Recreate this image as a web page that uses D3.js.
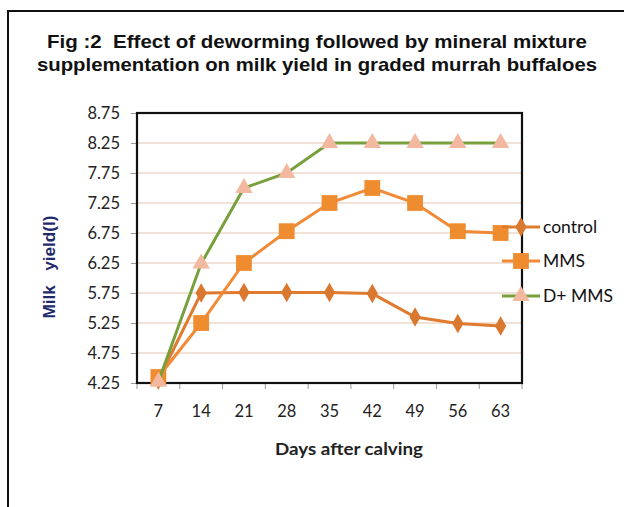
<!DOCTYPE html>
<html><head><meta charset="utf-8">
<script src="https://cdn.jsdelivr.net/npm/d3@7"></script>
<style>body{margin:0;background:#fff}svg{display:block}</style>
</head><body><svg id="c" width="624" height="507"></svg>
<script>
const days = ["7","14","21","28","35","42","49","56","63"];
const control = [4.30, 5.75, 5.76, 5.76, 5.76, 5.74, 5.35, 5.24, 5.20];
const mms = [4.35, 5.25, 6.25, 6.78, 7.25, 7.50, 7.25, 6.78, 6.75];
const dmms = [4.27, 6.24, 7.50, 7.75, 8.25, 8.25, 8.25, 8.25, 8.25];
const yTicks = [4.25, 4.75, 5.25, 5.75, 6.25, 6.75, 7.25, 7.75, 8.25, 8.75];
const seriesNames = ["control", "MMS", "D+ MMS"];
const titleLines = ["Fig :2  Effect of deworming followed by mineral mixture", "supplementation on milk yield in graded murrah buffaloes"];

const svg = d3.select("#c");
// outer frame
svg.append("rect").attr("x", 8).attr("y", 11).attr("width", 640).attr("height", 520)
  .attr("fill", "none").attr("stroke", "#111").attr("stroke-width", 2);

const L = 137, T = 113, R = 522, B = 383;
const x = d3.scaleBand().domain(days).range([L, R]);
const y = d3.scaleLinear().domain([4.25, 8.75]).range([B, T]);

// title
const tl = [[47, 48, 540], [37, 71, 560]];
svg.selectAll(".title").data(titleLines).join("text")
  .attr("x", (d, i) => tl[i][0]).attr("y", (d, i) => tl[i][1])
  .attr("textLength", (d, i) => tl[i][2]).attr("lengthAdjust", "spacingAndGlyphs")
  .attr("font-family", "Liberation Sans, Arial, sans-serif").attr("font-weight", "bold")
  .attr("font-size", 18.5).attr("fill", "#111").attr("xml:space", "preserve").text(d => d);

// gridlines
svg.append("g").selectAll("line").data(yTicks.slice(1, -1)).join("line")
  .attr("x1", L).attr("x2", R).attr("y1", d => y(d)).attr("y2", d => y(d))
  .attr("stroke", "#E3C3AE").attr("stroke-width", 1.2);

// axes
const yAxis = svg.append("g").attr("transform", `translate(${L},0)`)
  .call(d3.axisLeft(y).tickValues(yTicks).tickFormat(d3.format(".2f")).tickSize(6).tickSizeOuter(0));
const xAxis = svg.append("g").attr("transform", `translate(0,${B})`)
  .call(d3.axisBottom(x).tickSize(0).tickSizeOuter(0));
// category boundary ticks
svg.append("g").selectAll("line").data(d3.range(days.length + 1)).join("line")
  .attr("x1", i => L + i * x.step()).attr("x2", i => L + i * x.step())
  .attr("y1", B).attr("y2", B + 6).attr("stroke", "#999");
[yAxis, xAxis].forEach(g => {
  g.select(".domain").remove();
  g.selectAll("line").attr("stroke", "#999");
  g.selectAll("text").attr("font-family", "Lato, Open Sans, sans-serif").attr("font-size", 16.5).attr("fill", "#222");
});
yAxis.selectAll("text").attr("x", -17).attr("dy", "0.36em");
xAxis.selectAll("text").attr("dy", 0).attr("y", 34);

// plot border
svg.append("rect").attr("x", L).attr("y", T).attr("width", R - L).attr("height", B - T)
  .attr("fill", "none").attr("stroke", "#111").attr("stroke-width", 2.2);

const cx = d => x(d) + x.bandwidth() / 2;
const line = d3.line().x(d => cx(d[0])).y(d => y(d[1]));
const series = [
  { name: seriesNames[0], vals: control, stroke: "#E07A2E", fill: "#D9782F", sym: d3.symbolDiamond, size: 110 },
  { name: seriesNames[1], vals: mms, stroke: "#F08A36", fill: "#F08C30", sym: d3.symbolSquare, size: 250 },
  { name: seriesNames[2], vals: dmms, stroke: "#77A03C", fill: "#F2B8A0", sym: d3.symbolTriangle, size: 130 }
];
series.forEach(s => {
  const pts = days.map((d, i) => [d, s.vals[i]]);
  svg.append("path").datum(pts).attr("d", line).attr("fill", "none")
    .attr("stroke", s.stroke).attr("stroke-width", 3);
  svg.append("g").selectAll("path").data(pts).join("path")
    .attr("transform", d => `translate(${cx(d[0])},${y(d[1])})`)
    .attr("d", d3.symbol().type(s.sym).size(s.size)).attr("fill", s.fill);
});

// legend
const ly = [227, 261, 296];
series.forEach((s, i) => {
  const g = svg.append("g").attr("transform", `translate(0,${ly[i]})`);
  g.append("line").attr("x1", 502).attr("x2", 540).attr("stroke", s.stroke).attr("stroke-width", 3);
  g.append("path").attr("transform", "translate(521,0)").attr("d", d3.symbol().type(s.sym).size(s.size)).attr("fill", s.fill);
  g.append("text").attr("x", 543).attr("dy", "0.35em").attr("font-family", "Lato, Open Sans, sans-serif")
    .attr("font-size", 17.5).attr("fill", "#111").text(s.name);
});

// axis titles
svg.append("text").attr("transform", "translate(55,267) rotate(-90)").attr("text-anchor", "middle")
  .attr("textLength", 103).attr("lengthAdjust", "spacingAndGlyphs")
  .attr("font-family", "Liberation Sans, Arial, sans-serif").attr("font-weight", "bold")
  .attr("font-size", 16.5).attr("fill", "#1F2A6B").attr("xml:space", "preserve").text("Milk   yield(l)");
svg.append("text").attr("x", 349).attr("y", 455).attr("text-anchor", "middle")
  .attr("textLength", 148).attr("lengthAdjust", "spacingAndGlyphs")
  .attr("font-family", "Lato, Open Sans, sans-serif").attr("font-weight", "bold")
  .attr("font-size", 17.5).attr("fill", "#222").text("Days after calving");
</script></body></html>
